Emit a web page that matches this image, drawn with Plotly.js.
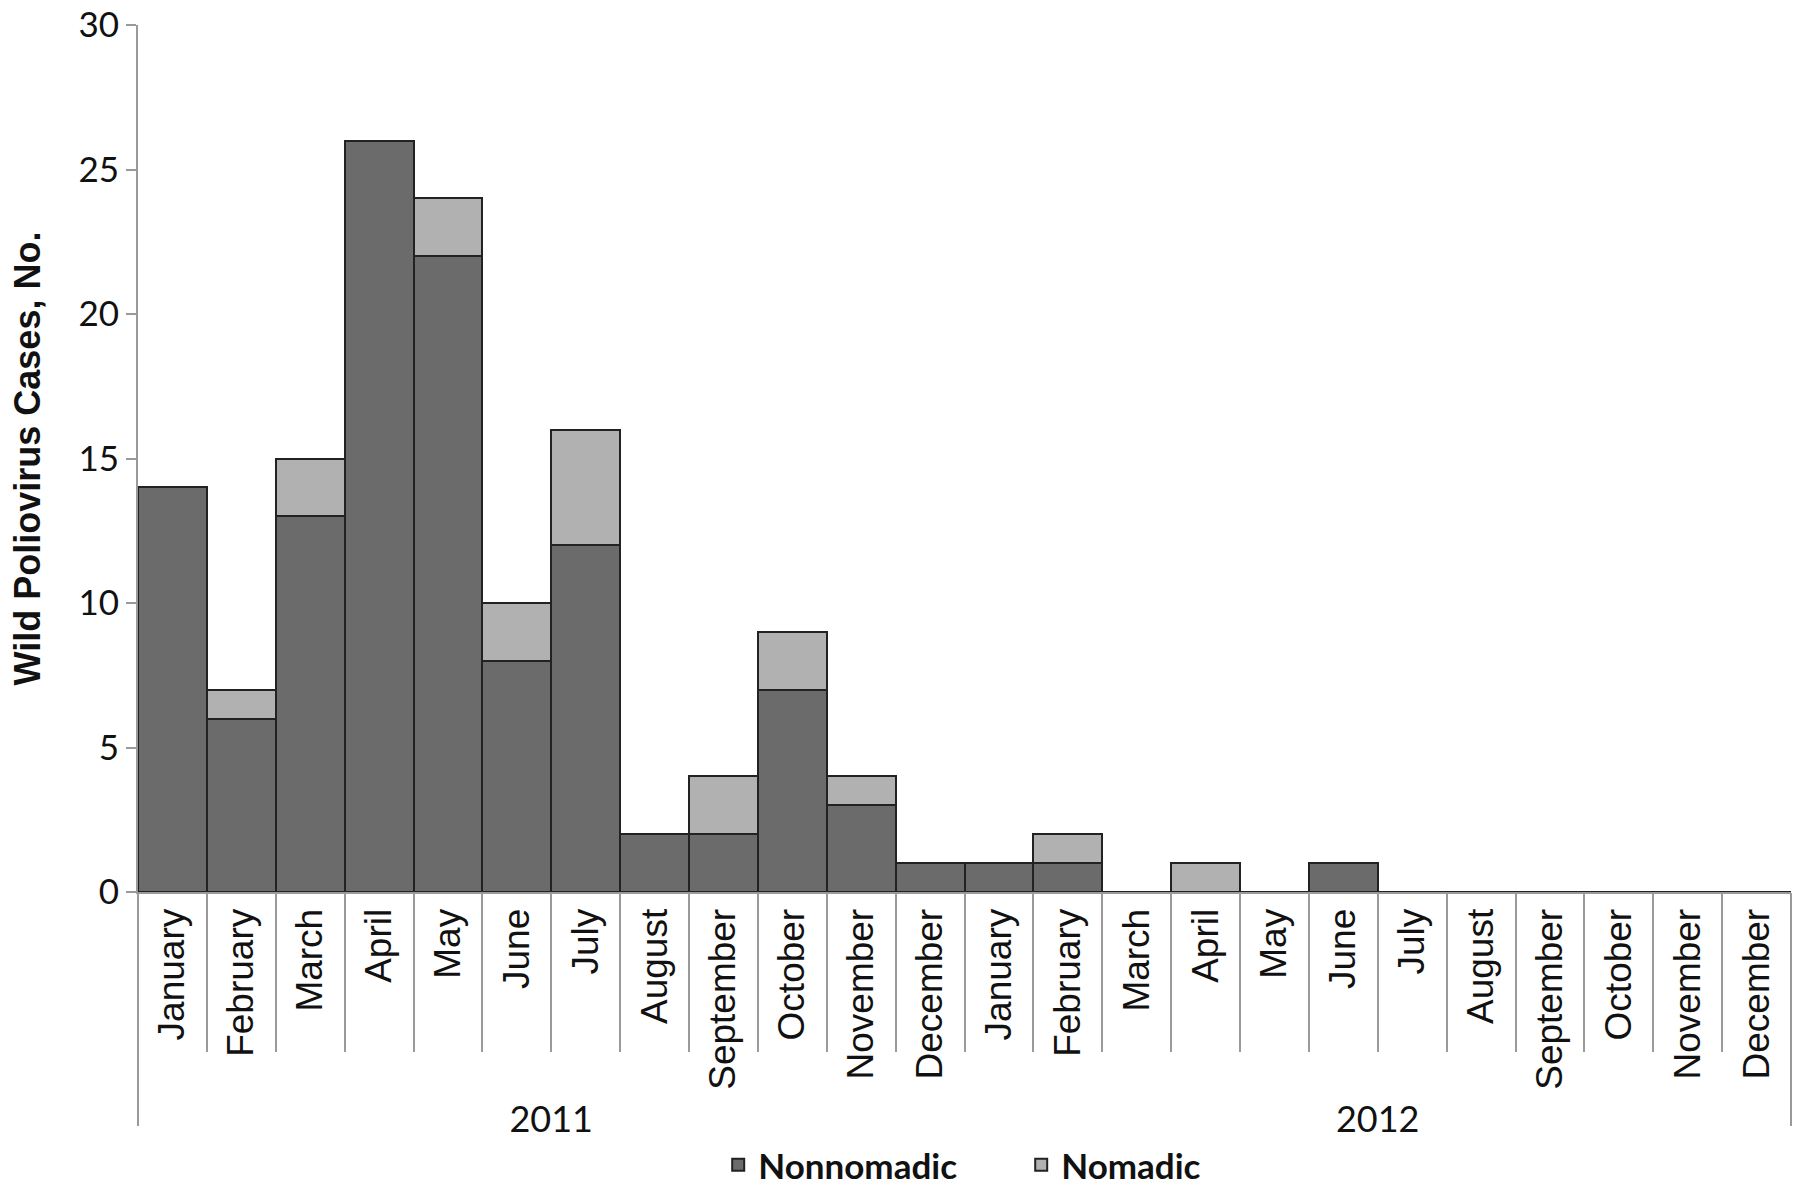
<!DOCTYPE html>
<html><head><meta charset="utf-8">
<script src="https://cdn.plot.ly/plotly-3.0.1.min.js"></script>
<style>html,body{margin:0;padding:0;background:#fff}#chart{width:1800px;height:1191px}</style>
</head><body><div id="chart"></div>
<script>
const years = ['2011','2011','2011','2011','2011','2011','2011','2011','2011','2011','2011','2011',
               '2012','2012','2012','2012','2012','2012','2012','2012','2012','2012','2012','2012'];
const months = ['January','February','March','April','May','June','July','August','September','October','November','December',
                'January','February','March','April','May','June','July','August','September','October','November','December'];
const nonnomadic = [14,6,13,26,22,8,12,2,2,7,3,1, 1,1,0,0,0,1,0,0,0,0,0,0];
const nomadic    = [0,1,2,0,2,2,4,0,2,2,1,0, 0,1,0,1,0,0,0,0,0,0,0,0];
const yTicks = [0,5,10,15,20,25,30];

const n = months.length;
const idx = months.map((_, i) => i);
const edgeVals = [-0.5, n - 0.5];
// year group centres, derived from the years array
const yearNames = [...new Set(years)];
const yearCentres = yearNames.map(yr => {
  const ii = idx.filter(i => years[i] === yr);
  return (ii[0] + ii[ii.length - 1]) / 2;
});

const lineCol = '#222222';
const gridCol = '#9a9a9a';
const traces = [
  {type:'bar', name:'Nonnomadic', x:idx, y:nonnomadic,
   marker:{color:'#6b6b6b', line:{color:lineCol, width:2}}, hoverinfo:'skip'},
  {type:'bar', name:'Nomadic', x:idx, y:nomadic,
   marker:{color:'#b1b1b1', line:{color:lineCol, width:2}}, hoverinfo:'skip'},
  {type:'scatter', mode:'markers', x:idx, y:idx.map(() => null), xaxis:'x2', yaxis:'y',
   showlegend:false, hoverinfo:'skip'}
];

const layout = {
  width:1800, height:1191,
  margin:{l:138, r:9, t:25, b:299, autoexpand:false},
  paper_bgcolor:'#fff', plot_bgcolor:'#fff',
  barmode:'stack', bargap:0,
  showlegend:true,
  legend:{orientation:'h', x:0.351, xanchor:'left', y:-0.315, yanchor:'middle',
          font:{family:'Lato', size:35, weight:'bold', color:'#111'},
          entrywidth:258, entrywidthmode:'pixels', traceorder:'normal'},
  xaxis:{type:'linear', range:[-0.5, n - 0.5], tickmode:'array', tickvals:idx, ticktext:months,
         tickangle:-90,
         tickfont:{family:'Liberation Sans, Arial', size:37, color:'#111'},
         ticks:'', showline:true, linecolor:gridCol, linewidth:2,
         minor:{tickmode:'linear', tick0:-0.5, dtick:1, ticks:'outside', ticklen:158,
                tickwidth:2, tickcolor:gridCol, showgrid:false},
         showgrid:false, zeroline:false, fixedrange:true},
  xaxis2:{type:'linear', overlaying:'x', anchor:'y', side:'bottom',
          range:[-0.5, n - 0.5], tickmode:'array', tickvals:yearCentres, ticktext:yearNames,
          ticks:'', ticklabelstandoff:203,
          tickfont:{family:'Lato', size:36, color:'#111'},
          minor:{tickmode:'array', tickvals:edgeVals, ticks:'outside', ticklen:233,
                 tickwidth:2, tickcolor:gridCol, showgrid:false},
          showgrid:false, zeroline:false, showline:false, fixedrange:true},
  yaxis:{range:[0,30], tickmode:'array', tickvals:yTicks,
         ticks:'outside', ticklen:10, tickwidth:2, tickcolor:gridCol,
         showline:true, linecolor:gridCol, linewidth:2,
         showgrid:false, zeroline:false, fixedrange:true,
         tickfont:{family:'Lato', size:35, color:'#111'},
         title:{text:'Wild Poliovirus Cases, No.', standoff:27,
                font:{family:'Liberation Sans, Arial', size:36, weight:'bold', color:'#111'}}}
};

Plotly.newPlot('chart', traces, layout, {displayModeBar:false, staticPlot:true});
</script>
</body></html>
